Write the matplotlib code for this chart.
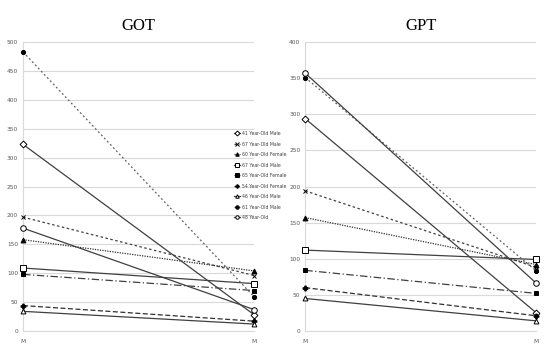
import numpy as np
import matplotlib.pyplot as plt

labels = ["41 Year-Old Male", "67 Year-Old Male", "60 Year-Old Female",
          "67 Year-Old Male", "65 Year-Old Female", "54 Year-Old Female",
          "46 Year-Old Male", "61 Year-Old Male", "48 Year-Old"]
cats = ["M", "M"]

got_before = [323, 197, 158, 109, 98, 44, 34, 483, 178]
got_after = [28, 96, 104, 82, 70, 17, 12, 59, 37]
gpt_before = [294, 194, 157, 112, 84, 60, 45, 351, 357]
gpt_after = [25, 88, 92, 99, 52, 21, 14, 83, 66]

markers = ["D", "x", "^", "s", "s", "P", "^", "o", "o"]
fills = ["white", "black", "black", "white", "black", "black", "white", "black", "white"]
styles = ["-", (0, (2, 2)), (0, (1, 1)), "-", (0, (6, 2, 1, 2)), (0, (4, 2)), "-", (0, (1.5, 2)), "-"]
colors = ["#404040", "#404040", "#303030", "#404040", "#404040", "#303030", "#404040", "#606060", "#404040"]
msizes = [3.5, 3.5, 3.5, 4, 3, 3.5, 3.5, 3, 4]

fig = plt.figure(figsize=(5.49, 3.54), dpi=100)
ax1 = fig.add_axes([0.042, 0.065, 0.421, 0.816])
ax2 = fig.add_axes([0.556, 0.065, 0.421, 0.816])

tick_family = ["Liberation Sans Narrow", "DejaVu Sans"]


def draw(ax, before, after, title, ymax, step):
    x = np.arange(len(cats))
    handles = []
    for i in range(len(labels)):
        h, = ax.plot(x, [before[i], after[i]], linestyle=styles[i], color=colors[i],
                     lw=0.9, marker=markers[i], markersize=msizes[i],
                     markerfacecolor=fills[i], markeredgecolor="black",
                     markeredgewidth=0.7, clip_on=False, zorder=3, label=labels[i])
        handles.append(h)
    ax.set_xlim(0, 1)
    ax.set_ylim(0, ymax)
    ax.set_yticks(np.arange(0, ymax + 1, step))
    ax.set_xticks(x)
    ax.set_xticklabels(cats)
    ax.grid(axis="y", color="#d9d9d9", lw=0.8)
    ax.set_axisbelow(True)
    for s in ["top", "right"]:
        ax.spines[s].set_visible(False)
    ax.spines["left"].set_color("#d9d9d9")
    ax.spines["bottom"].set_color("#d9d9d9")
    ax.tick_params(axis="y", length=0, pad=3.5)
    ax.tick_params(axis="x", length=0, pad=6)
    for t in ax.get_xticklabels() + ax.get_yticklabels():
        t.set_fontfamily(tick_family)
        t.set_fontsize(4.2)
        t.set_color("#595959")
    ax.set_title(title, fontsize=12, family="Liberation Serif", pad=9)
    return handles


handles = draw(ax1, got_before, got_after, "GOT", 500, 50)
draw(ax2, gpt_before, gpt_after, "GPT", 400, 50)

leg = fig.legend(handles=handles, loc="upper left", bbox_to_anchor=(0.422, 0.635),
                 frameon=False, prop={"family": tick_family, "size": 3.3},
                 handlelength=1.5, handletextpad=0.3, labelspacing=1.2, borderaxespad=0)
for t in leg.get_texts():
    t.set_color("#404040")
for h in leg.legend_handles:
    h.set_markersize(2.5)

fig.savefig("out.png", dpi=100)
